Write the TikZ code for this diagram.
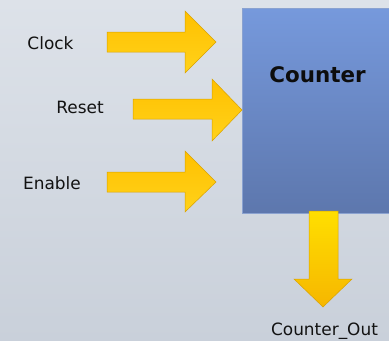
\documentclass[tikz,border=0pt]{standalone}
\usepackage{fontspec}
\setmainfont{DejaVu Sans}
\definecolor{bgtop}{HTML}{DDE2E9}
\definecolor{bgbot}{HTML}{C9D0DA}
\definecolor{boxtop}{HTML}{7699DC}
\definecolor{boxbot}{HTML}{5D77AD}
\definecolor{boxedge}{HTML}{8AA2D0}
\definecolor{arrtop}{HTML}{FFC000}
\definecolor{arrbot}{HTML}{FFD21A}
\definecolor{arredge}{HTML}{D9A200}
\definecolor{dtop}{HTML}{FFDF00}
\definecolor{dbot}{HTML}{F6B600}
\tikzset{
  blockarrow/.style={draw=arredge, line width=0.5bp, top color=arrtop, bottom color=arrbot, line join=miter},
  downarrow/.style={draw=arredge, line width=0.5bp, top color=dtop, bottom color=dbot, line join=miter},
  lbl/.style={font=\fontsize{17}{19}\selectfont, text=black!93, inner sep=0pt},
}
\begin{document}
\begin{tikzpicture}[x=1bp,y=-1bp]
\shade[top color=bgtop, bottom color=bgbot] (0,0) rectangle (389,341);
\useasboundingbox (0,0) rectangle (389,341);
% counter box
\node[draw=boxedge, line width=0.6bp, top color=boxtop, bottom color=boxbot, minimum width=147bp, minimum height=205bp, inner sep=0pt, anchor=north west] (box) at (242,8) {};
\node[font=\bfseries\fontsize{21.5}{24}\selectfont, text=black!95, inner sep=0pt] (title) at (317.5,75) {Counter};
% labels
\node[lbl] (clk) at (50.5,43) {Clock};
\node[lbl] (rst) at (80,107) {Reset};
\node[lbl] (en) at (52,183) {Enable};
\node[lbl] (out) at (324.5,331.5) {Counter\_Out};
% arrow tip coordinates
\coordinate (clktip) at (216,42);
\coordinate (rsttip) at (box.west |- 0,110);
\coordinate (entip) at (216,182);
\coordinate (outtip) at (323,307);
% Clock arrow
\draw[blockarrow] (107,32) -- (185,32) -- (185,11) -- (clktip) -- (185,73) -- (185,52) -- (107,52) -- cycle;
% Reset arrow
\draw[blockarrow] (133,99) -- (212,99) -- (212,79) -- (rsttip) -- (212,141) -- (212,119) -- (133,119) -- cycle;
% Enable arrow
\draw[blockarrow] (107,172) -- (185,172) -- (185,151) -- (entip) -- (185,212) -- (185,192) -- (107,192) -- cycle;
% Output arrow
\draw[downarrow] (309,211) -- (338,211) -- (338,279) -- (352,279) -- (outtip) -- (294,279) -- (309,279) -- cycle;
\end{tikzpicture}
\end{document}
